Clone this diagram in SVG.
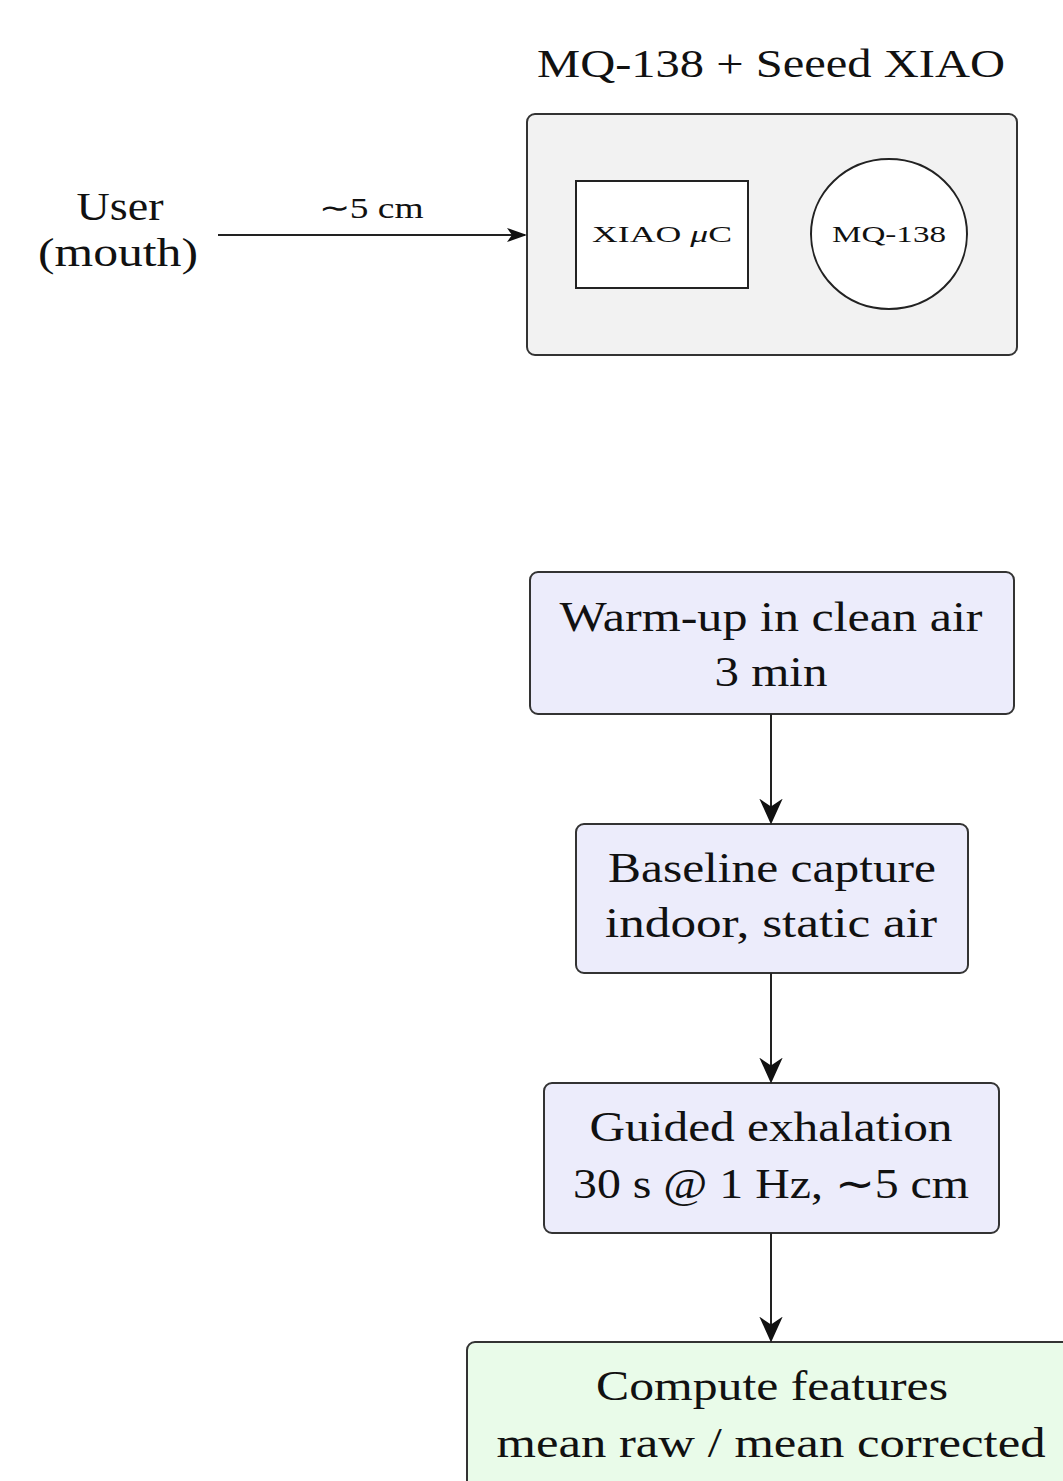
<svg xmlns="http://www.w3.org/2000/svg" width="1063" height="1481" viewBox="0 0 1063 1481">
<defs>
<style>
text{font-family:"Liberation Serif","Times New Roman",serif;fill:#111;text-anchor:middle}
.big{font-size:42px}
.mid{font-size:40px}
.lbl{font-size:30px}
.sm{font-size:23px}
.box{stroke:#333;stroke-width:2}
.step{fill:#ececfb}
.feat{fill:#e9fbe9}
.conn{stroke:#222;stroke-width:2;fill:none;marker-end:url(#arr)}
</style>
<marker id="arr" viewBox="0 0 20 20" refX="18" refY="10" markerWidth="20" markerHeight="20" markerUnits="userSpaceOnUse" orient="auto">
<path d="M0,3 L20,10 L0,17 L5,10 Z" fill="#111"/>
</marker>
<marker id="arr2" viewBox="0 0 20 20" refX="18" refY="10" markerWidth="26" markerHeight="26" markerUnits="userSpaceOnUse" orient="auto">
<path d="M0,1 L20,10 L0,19 L6,10 Z" fill="#111"/>
</marker>
</defs>
<text class="mid" x="771" y="77" textLength="468" lengthAdjust="spacingAndGlyphs">MQ-138 + Seeed XIAO</text>
<g id="device">
<rect class="box" x="527" y="114" width="490" height="241" rx="8" fill="#f2f2f2"/>
</g>
<g id="xiao">
<rect x="576" y="181" width="172" height="107" fill="#fff" stroke="#222" stroke-width="2"/>
<text class="sm" x="662" y="242" textLength="140" lengthAdjust="spacingAndGlyphs">XIAO <tspan font-style="italic">μ</tspan>C</text>
</g>
<g id="mq138">
<ellipse cx="889" cy="234" rx="78" ry="75" fill="#fff" stroke="#222" stroke-width="2"/>
<text class="sm" x="889" y="242" textLength="114" lengthAdjust="spacingAndGlyphs">MQ-138</text>
</g>
<g id="user">
<text class="mid" x="120" y="220" textLength="87" lengthAdjust="spacingAndGlyphs">User</text>
<text class="mid" x="118" y="266" textLength="160" lengthAdjust="spacingAndGlyphs">(mouth)</text>
</g>
<g id="warmup">
<rect class="box step" x="530" y="572" width="484" height="142" rx="8"/>
<text class="big" x="771" y="631" textLength="423" lengthAdjust="spacingAndGlyphs">Warm-up in clean air</text>
<text class="big" x="771" y="686" textLength="113" lengthAdjust="spacingAndGlyphs">3 min</text>
</g>
<g id="baseline">
<rect class="box step" x="576" y="824" width="392" height="149" rx="8"/>
<text class="big" x="772" y="882" textLength="328" lengthAdjust="spacingAndGlyphs">Baseline capture</text>
<text class="big" x="771" y="937" textLength="332" lengthAdjust="spacingAndGlyphs">indoor, static air</text>
</g>
<g id="exhale">
<rect class="box step" x="544" y="1083" width="455" height="150" rx="8"/>
<text class="big" x="771" y="1141" textLength="363" lengthAdjust="spacingAndGlyphs">Guided exhalation</text>
<text class="big" x="771" y="1198" textLength="396" lengthAdjust="spacingAndGlyphs">30 s @ 1 Hz, ∼5 cm</text>
</g>
<g id="features">
<rect class="box feat" x="467" y="1342" width="620" height="160" rx="8"/>
<text class="big" x="772" y="1400" textLength="352" lengthAdjust="spacingAndGlyphs">Compute features</text>
<text class="big" x="771" y="1457" textLength="549" lengthAdjust="spacingAndGlyphs">mean raw / mean corrected</text>
</g>
<g id="connectors">
<line class="conn" x1="218" y1="235" x2="525" y2="235"/>
<text class="lbl" x="371" y="218" textLength="105" lengthAdjust="spacingAndGlyphs">∼5 cm</text>
<line x1="771" y1="714" x2="771" y2="822" stroke="#222" stroke-width="2" marker-end="url(#arr2)"/>
<line x1="771" y1="973" x2="771" y2="1081" stroke="#222" stroke-width="2" marker-end="url(#arr2)"/>
<line x1="771" y1="1233" x2="771" y2="1340" stroke="#222" stroke-width="2" marker-end="url(#arr2)"/>
</g>
</svg>
